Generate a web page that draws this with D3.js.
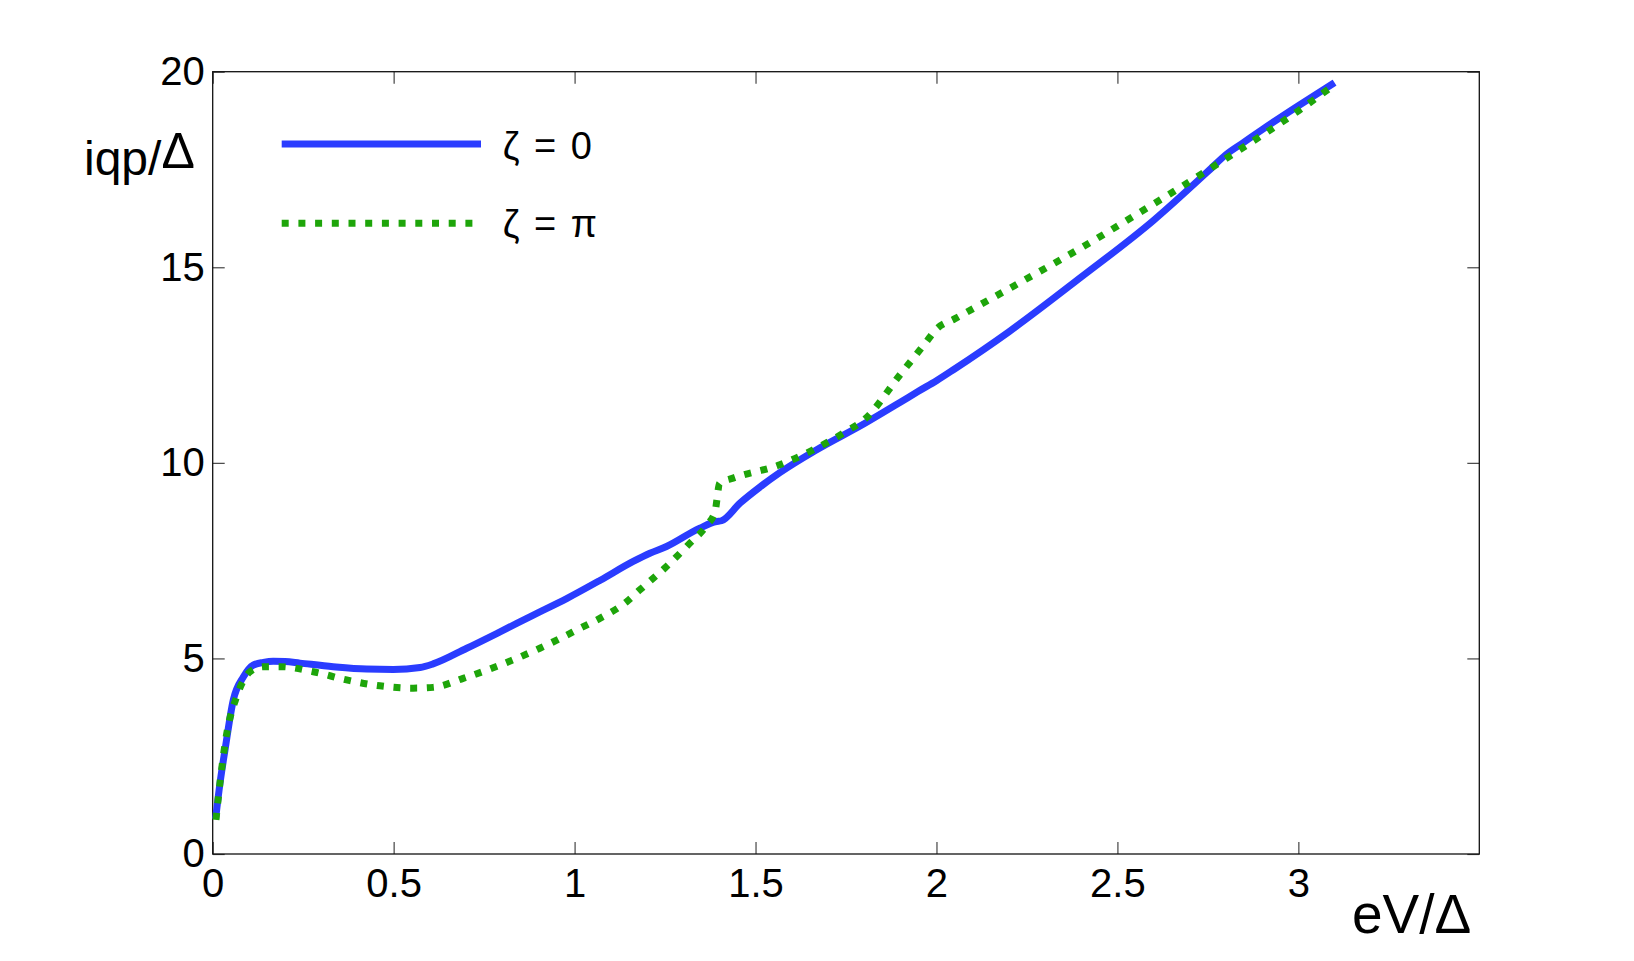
<!DOCTYPE html>
<html>
<head>
<meta charset="utf-8">
<script src="https://cdn.jsdelivr.net/npm/d3@7"></script>
<style>
  html, body { margin: 0; padding: 0; background: #fff; }
  svg { display: block; }
  text { font-family: "Liberation Sans", Arial, Helvetica, sans-serif; fill: #000; }
</style>
</head>
<body>
<svg id="chart" width="1634" height="961"></svg>
<script>
// ---- data ----
const xTicks = [0, 0.5, 1, 1.5, 2, 2.5, 3];
const xTickLabels = ["0", "0.5", "1", "1.5", "2", "2.5", "3"];
const yTicks = [0, 5, 10, 15, 20];
const yTickLabels = ["0", "5", "10", "15", "20"];

const seriesNames = ["ζ = 0", "ζ = π"];

// ζ = 0 (solid blue)
const zeta0X = [0.008, 0.02, 0.034, 0.057, 0.085, 0.112, 0.14, 0.167, 0.2, 0.241, 0.333, 0.425, 0.499, 0.573, 0.609,
  0.702, 0.794, 0.886, 0.978, 1.071, 1.162, 1.208, 1.254, 1.346, 1.392, 1.406, 1.457, 1.512, 1.567, 1.668,
  1.8, 1.9, 1.95, 2.0, 2.05, 2.2, 2.4, 2.6, 2.75, 2.8, 2.85, 2.9, 3.0, 3.1];
const zeta0Y = [0.9, 1.8, 2.66, 3.94, 4.53, 4.83, 4.9, 4.93, 4.92, 4.88, 4.79, 4.73, 4.72, 4.77, 4.86,
  5.26, 5.68, 6.11, 6.53, 7.0, 7.48, 7.69, 7.86, 8.33, 8.50, 8.52, 8.97, 9.38, 9.75, 10.33,
  11.0, 11.55, 11.83, 12.1, 12.4, 13.35, 14.75, 16.2, 17.45, 17.88, 18.2, 18.52, 19.13, 19.72];

// ζ = π (dotted green)
const zetaPiX = [0.009, 0.02, 0.039, 0.066, 0.103, 0.14, 0.186, 0.278, 0.37, 0.462, 0.554, 0.609, 0.692, 0.794,
  0.904, 1.024, 1.071, 1.144, 1.18, 1.254, 1.318, 1.365, 1.388, 1.401, 1.438, 1.567, 1.659, 1.75, 1.8, 1.9, 1.97, 2.0,
  2.05, 2.2, 2.4, 2.6, 2.8, 3.0, 3.09];
const zetaPiY = [0.87, 1.81, 3.09, 4.02, 4.66, 4.79, 4.79, 4.66, 4.45, 4.3, 4.24, 4.26, 4.49, 4.83,
  5.26, 5.81, 6.03, 6.45, 6.75, 7.35, 7.94, 8.4, 8.75, 9.48, 9.61, 9.95, 10.33, 10.8, 11.1, 12.26, 13.07, 13.42,
  13.68, 14.45, 15.5, 16.62, 17.78, 19.0, 19.6];

// ---- layout ----
const svg = d3.select("#chart");
const plotL = 212.7, plotT = 71.7, plotR = 1479.3, plotB = 854;
const x = d3.scaleLinear().domain([0, 3.5]).range([plotL, plotR]);
const y = d3.scaleLinear().domain([0, 20]).range([plotB, plotT]);

const tickColor = "#444";
const fontTick = 40;

const gx = svg.append("g").attr("transform", `translate(0,${plotB})`)
  .call(d3.axisBottom(x).tickValues(xTicks).tickFormat((d, i) => xTickLabels[i])
    .tickSizeInner(-12).tickSizeOuter(0).tickPadding(15));
const gxt = svg.append("g").attr("transform", `translate(0,${plotT})`)
  .call(d3.axisTop(x).tickValues(xTicks).tickFormat("").tickSizeInner(-12).tickSizeOuter(0));
const gy = svg.append("g").attr("transform", `translate(${plotL},0)`)
  .call(d3.axisLeft(y).tickValues(yTicks).tickFormat((d, i) => yTickLabels[i])
    .tickSizeInner(-12).tickSizeOuter(0).tickPadding(8));
const gyr = svg.append("g").attr("transform", `translate(${plotR},0)`)
  .call(d3.axisRight(y).tickValues(yTicks).tickFormat("").tickSizeInner(-12).tickSizeOuter(0));

[gx, gxt, gy, gyr].forEach(g => {
  g.select(".domain").remove();
  g.selectAll(".tick line").attr("stroke", tickColor).attr("stroke-width", 1.2);
  g.selectAll(".tick text").attr("font-size", fontTick)
    .attr("font-family", "'Liberation Sans', Arial, sans-serif").attr("fill", "#000");
});

svg.append("rect").attr("x", plotL).attr("y", plotT)
  .attr("width", plotR - plotL).attr("height", plotB - plotT)
  .attr("fill", "none").attr("stroke", "#111").attr("stroke-width", 1.3);

const line = d3.line().x(d => x(d[0])).y(d => y(d[1])).curve(d3.curveMonotoneX);
const blueData = zeta0X.map((v, i) => [v, zeta0Y[i]]);
const greenData = zetaPiX.map((v, i) => [v, zetaPiY[i]]);

const blue = "#2a3cff", green = "#1ea50a";

svg.append("path").datum(blueData).attr("d", line)
  .attr("fill", "none").attr("stroke", blue).attr("stroke-width", 7)
  .attr("stroke-linejoin", "round");
svg.append("path").datum(greenData).attr("d", line)
  .attr("fill", "none").attr("stroke", green).attr("stroke-width", 7)
  .attr("stroke-dasharray", "7,9.7");

const leg = svg.append("g");
leg.append("line").attr("x1", 281.7).attr("x2", 481).attr("y1", 144).attr("y2", 144)
  .attr("stroke", blue).attr("stroke-width", 7);
leg.append("line").attr("x1", 281.7).attr("x2", 476).attr("y1", 223.3).attr("y2", 223.3)
  .attr("stroke", green).attr("stroke-width", 7).attr("stroke-dasharray", "7,9.7");
leg.append("text").attr("x", 502.7).attr("y", 159).attr("font-size", 38).attr("word-spacing", 4).text(seriesNames[0]);
leg.append("text").attr("x", 502.7).attr("y", 237).attr("font-size", 38).attr("word-spacing", 4).text(seriesNames[1]);

svg.append("text").attr("x", 1352).attr("y", 933).attr("font-size", 55).text("eV/Δ");
const yl = svg.append("text").attr("x", 84).attr("y", 175).attr("font-size", 48);
yl.append("tspan").text("iqp/");
yl.append("tspan").attr("dy", -7).attr("font-size", 50).text("Δ");
</script>
</body>
</html>
